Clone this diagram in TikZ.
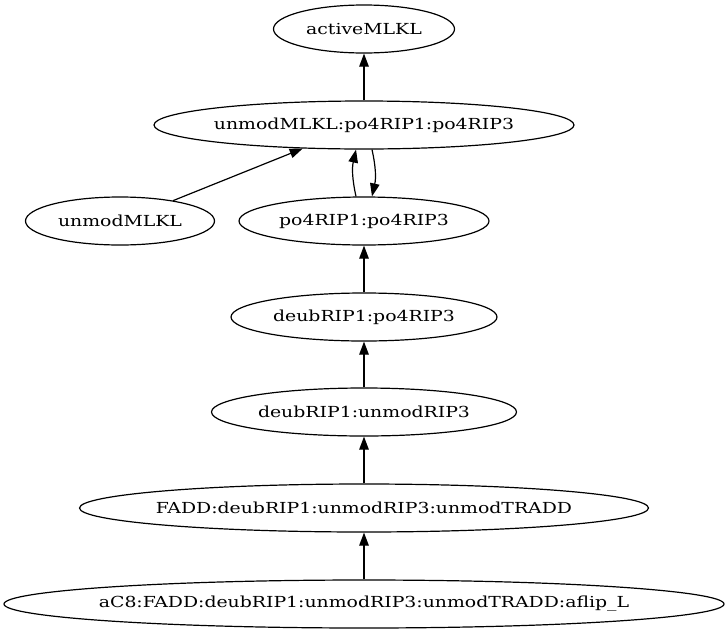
\documentclass[tikz,border=0pt]{standalone}
\usepackage{fontspec}
\setmainfont[FakeStretch=1.24]{DejaVu Serif}
\usetikzlibrary{shapes.geometric,arrows.meta}
\begin{document}
\begin{tikzpicture}[x=1pt,y=-1pt,
  nd/.style={draw,ellipse,line width=1.2pt,minimum height=48pt,inner sep=0pt},
  lbl/.style={font=\fontsize{15.2}{18}\selectfont},
  arr/.style={line width=1.2pt,-{Triangle[length=13pt,width=9.5pt]}}]
\useasboundingbox (0,0) rectangle (728,635);
\node[nd,minimum width=181pt,label={[lbl]center:activeMLKL}] (act) at (364,29) {};
\node[nd,minimum width=420pt,label={[lbl]center:unmodMLKL:po4RIP1:po4RIP3}] (cx) at (364,125) {};
\node[nd,minimum width=189pt,label={[lbl]center:unmodMLKL}] (um) at (120,221) {};
\node[nd,minimum width=250pt,label={[lbl]center:po4RIP1:po4RIP3}] (po4) at (364,221) {};
\node[nd,minimum width=266pt,label={[lbl]center:deubRIP1:po4RIP3}] (dpo) at (364,317) {};
\node[nd,minimum width=305pt,label={[lbl]center:deubRIP1:unmodRIP3}] (dun) at (364,412) {};
\node[nd,minimum width=569pt,label={[lbl]center:FADD:deubRIP1:unmodRIP3:unmodTRADD}] (fadd) at (364,508) {};
\node[nd,minimum width=720pt,label={[lbl]center:aC8:FADD:deubRIP1:unmodRIP3:unmodTRADD:aflip\_L}] (ac8) at (364,604) {};
\draw[arr] (cx.north) -- (act.south);
\draw[arr] (um.21) -- (cx.201);
\draw[arr] ([xshift=-8pt]po4.north) .. controls ([xshift=-12pt,yshift=18pt]po4.north) and ([xshift=-12pt,yshift=-18pt]cx.south) .. ([xshift=-8pt]cx.south);
\draw[arr] ([xshift=8pt]cx.south) .. controls ([xshift=12pt,yshift=-18pt]cx.south) and ([xshift=12pt,yshift=18pt]po4.north) .. ([xshift=8pt]po4.north);
\draw[arr] (dpo.north) -- (po4.south);
\draw[arr] (dun.north) -- (dpo.south);
\draw[arr] (fadd.north) -- (dun.south);
\draw[arr] (ac8.north) -- (fadd.south);
\end{tikzpicture}
\end{document}
